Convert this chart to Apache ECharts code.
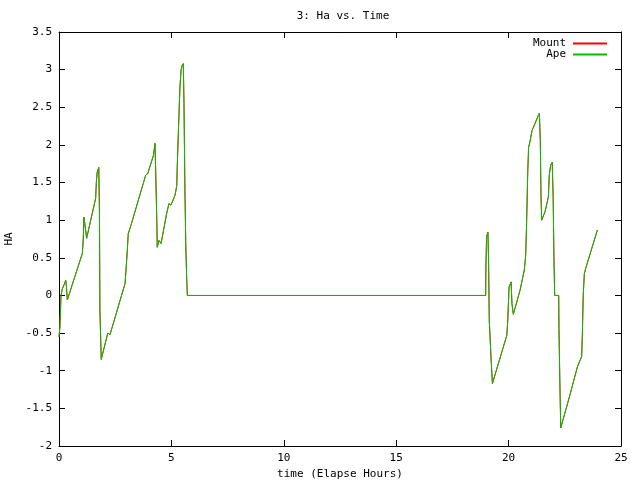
<!DOCTYPE html>
<html>
<head>
<meta charset="utf-8">
<script src="https://cdn.jsdelivr.net/npm/echarts@6/dist/echarts.min.js"></script>
<style>html,body{margin:0;padding:0;background:#fff}#c{width:640px;height:480px}</style>
</head>
<body>
<div id="c"></div>
<script>
var timeHours = [0, 0.04, 0.09, 0.14, 0.30, 0.33, 0.37, 1.04, 1.08, 1.11, 1.15, 1.23, 1.63, 1.66, 1.70, 1.77, 1.80, 1.82, 1.88, 2.17, 2.27, 2.94, 3.04, 3.08, 3.2, 3.26, 3.75, 3.86, 3.95, 4.2, 4.24, 4.27, 4.3, 4.35, 4.37, 4.45, 4.54, 4.79, 4.89, 4.98, 5.16, 5.24, 5.26, 5.31, 5.38, 5.43, 5.47, 5.53, 5.56, 5.6, 5.64, 5.68, 5.71, 18.98, 18.99, 19.02, 19.08, 19.11, 19.14, 19.22, 19.28, 19.92, 19.96, 20.02, 20.11, 20.15, 20.21, 20.51, 20.7, 20.76, 20.8, 20.85, 20.89, 20.95, 21.04, 21.17, 21.32, 21.37, 21.41, 21.44, 21.47, 21.62, 21.77, 21.81, 21.87, 21.94, 21.98, 22.02, 22.05, 22.23, 22.24, 22.29, 22.32, 22.73, 23.06, 23.25, 23.28, 23.32, 23.37, 23.43, 23.95];
var mountHA = [-0.55, -0.42, 0.0, 0.08, 0.20, 0.12, -0.06, 0.56, 0.75, 1.04, 0.95, 0.76, 1.29, 1.5, 1.64, 1.70, 1.1, -0.2, -0.85, -0.5, -0.52, 0.16, 0.6, 0.82, 0.93, 0.95, 1.49, 1.6, 1.62, 1.86, 1.95, 2.02, 1.67, 1.0, 0.64, 0.73, 0.69, 1.09, 1.22, 1.2, 1.33, 1.46, 1.71, 2.17, 2.77, 2.99, 3.05, 3.08, 2.55, 1.44, 0.67, 0.23, 0.0, 0.0, 0.38, 0.78, 0.84, 0.45, -0.33, -0.84, -1.17, -0.53, -0.35, 0.11, 0.18, -0.11, -0.25, 0.07, 0.34, 0.53, 0.95, 1.62, 1.97, 2.04, 2.19, 2.28, 2.39, 2.42, 2.06, 1.35, 1.0, 1.11, 1.31, 1.6, 1.73, 1.77, 1.33, 0.45, 0.0, 0.0, -0.44, -1.32, -1.76, -1.32, -0.95, -0.81, -0.53, 0.0, 0.29, 0.36, 0.87];
var apeHA = [-0.55, -0.42, 0.0, 0.08, 0.20, 0.12, -0.06, 0.56, 0.75, 1.04, 0.95, 0.76, 1.29, 1.5, 1.64, 1.70, 1.1, -0.2, -0.85, -0.5, -0.52, 0.16, 0.6, 0.82, 0.93, 0.95, 1.49, 1.6, 1.62, 1.86, 1.95, 2.02, 1.67, 1.0, 0.64, 0.73, 0.69, 1.09, 1.22, 1.2, 1.33, 1.46, 1.71, 2.17, 2.77, 2.99, 3.05, 3.08, 2.55, 1.44, 0.67, 0.23, 0.0, 0.0, 0.38, 0.78, 0.84, 0.45, -0.33, -0.84, -1.17, -0.53, -0.35, 0.11, 0.18, -0.11, -0.25, 0.07, 0.34, 0.53, 0.95, 1.62, 1.97, 2.04, 2.19, 2.28, 2.39, 2.42, 2.06, 1.35, 1.0, 1.11, 1.31, 1.6, 1.73, 1.77, 1.33, 0.45, 0.0, 0.0, -0.44, -1.32, -1.76, -1.32, -0.95, -0.81, -0.53, 0.0, 0.29, 0.36, 0.87];
var seriesNames = ['Mount', 'Ape'];

function zip(xs, ys) { return xs.map(function (x, i) { return [x, ys[i]]; }); }

var FONT = 'DejaVu Sans Mono';
var txt = { fontFamily: FONT, fontSize: 11, color: '#000' };
var chart = echarts.init(document.getElementById('c'), null, { renderer: 'canvas' });
var axisCommon = {
  axisLine: { show: true, onZero: false, lineStyle: { color: '#000', width: 1 } },
  axisTick: { show: true, inside: true, length: 6, lineStyle: { color: '#000' } },
  splitLine: { show: false }
};
chart.setOption({
  animation: false,
  backgroundColor: '#fff',
  title: {
    text: '3: Ha vs. Time', left: 338, top: 6, textAlign: 'center',
    textStyle: { fontFamily: FONT, fontSize: 11, fontWeight: 'normal', color: '#000' }
  },
  legend: {
    data: seriesNames, orient: 'vertical', right: 28, top: 33, align: 'right',
    itemWidth: 34, itemHeight: 2, itemGap: 0, icon: 'rect',
    textStyle: { fontFamily: FONT, fontSize: 11, color: '#000', padding: [0, 2, 0, 0], lineHeight: 11 }
  },
  grid: { left: 59, right: 19, top: 32, bottom: 34, containLabel: false, outerBoundsMode: 'none' },
  xAxis: [
    Object.assign({ type: 'value', min: 0, max: 25, interval: 5, position: 'bottom',
      name: 'time (Elapse Hours)', nameLocation: 'middle', nameGap: 21, nameTextStyle: txt,
      axisLabel: Object.assign({ margin: 7 }, txt) }, axisCommon),
    Object.assign({ type: 'value', min: 0, max: 25, interval: 5, position: 'top',
      axisLabel: { show: false } }, axisCommon)
  ],
  yAxis: [
    Object.assign({ type: 'value', min: -2, max: 3.5, interval: 0.5, position: 'left',
      name: 'HA', nameLocation: 'middle', nameGap: 42, nameRotate: 90, nameTextStyle: txt,
      axisLabel: Object.assign({ margin: 7 }, txt) }, axisCommon),
    Object.assign({ type: 'value', min: -2, max: 3.5, interval: 0.5, position: 'right',
      axisLabel: { show: false } }, axisCommon)
  ],
  series: [
    { name: 'Mount', type: 'line', data: zip(timeHours, mountHA), symbol: 'none', showSymbol: false,
      lineStyle: { color: '#ff0000', width: 1 }, itemStyle: { color: '#ff0000' } },
    { name: 'Ape', type: 'line', data: zip(timeHours, apeHA), symbol: 'none', showSymbol: false,
      lineStyle: { color: '#00c000', width: 1 }, itemStyle: { color: '#00c000' } }
  ]
});
</script>
</body>
</html>
